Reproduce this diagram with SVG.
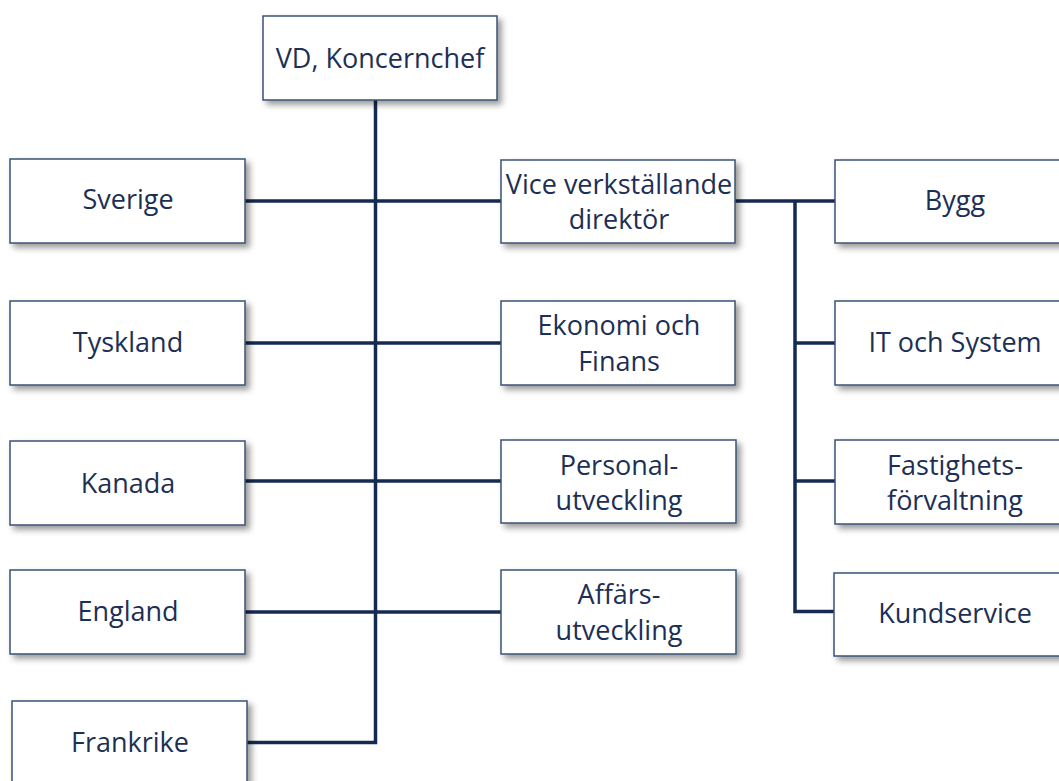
<svg xmlns="http://www.w3.org/2000/svg" width="1059" height="781" viewBox="0 0 1059 781">
  <style>
    .box { fill: #ffffff; stroke: #3b5176; stroke-width: 1.5; filter: url(#shadow); }
    .lbl { font-family: "Open Sans", "Noto Sans", "DejaVu Sans", sans-serif; font-size: 27px; fill: #1d2f55; text-anchor: middle; }
    .wire { fill: none; stroke: #152a52; stroke-width: 3.5; stroke-linejoin: miter; stroke-linecap: butt; }
  </style>
  <defs>
    <filter id="shadow" x="-10%" y="-10%" width="130%" height="140%">
      <feDropShadow dx="4" dy="4" stdDeviation="3" flood-color="#000000" flood-opacity="0.4"/>
    </filter>
  </defs>
  <rect width="1059" height="781" fill="#ffffff"/>

  <!-- connectors -->
  <g id="connectors" class="wire">
    <path d="M375.5 100 V742.5 H247"/>
    <path d="M245 201 H501"/>
    <path d="M245 343 H501"/>
    <path d="M245 481 H501"/>
    <path d="M245 612 H501"/>
    <path d="M735 201 H835"/>
    <path d="M795 201 V611.5 H835"/>
    <path d="M795 343 H835"/>
    <path d="M795 481 H835"/>
  </g>

  <!-- top -->
  <g id="vd">
    <rect class="box" x="263" y="16" width="234" height="84"/>
    <text class="lbl" x="380" y="68">VD, Koncernchef</text>
  </g>

  <!-- countries -->
  <g id="sverige">
    <rect class="box" x="10" y="159" width="235" height="84"/>
    <text class="lbl" x="128" y="209">Sverige</text>
  </g>
  <g id="tyskland">
    <rect class="box" x="10" y="301" width="235" height="84"/>
    <text class="lbl" x="128" y="352">Tyskland</text>
  </g>
  <g id="kanada">
    <rect class="box" x="10" y="441" width="235" height="84"/>
    <text class="lbl" x="128" y="493">Kanada</text>
  </g>
  <g id="england">
    <rect class="box" x="10" y="570" width="235" height="84"/>
    <text class="lbl" x="128" y="621">England</text>
  </g>
  <g id="frankrike">
    <rect class="box" x="12" y="701" width="235" height="84"/>
    <text class="lbl" x="130" y="752">Frankrike</text>
  </g>

  <!-- staff functions -->
  <g id="vvd">
    <rect class="box" x="501" y="160" width="234" height="83"/>
    <text class="lbl" x="619" y="194">Vice verkställande</text>
    <text class="lbl" x="619" y="229">direktör</text>
  </g>
  <g id="ekonomi">
    <rect class="box" x="501" y="301" width="234" height="84"/>
    <text class="lbl" x="619" y="335">Ekonomi och</text>
    <text class="lbl" x="619" y="371">Finans</text>
  </g>
  <g id="personal">
    <rect class="box" x="501" y="440" width="235" height="83"/>
    <text class="lbl" x="619" y="475">Personal-</text>
    <text class="lbl" x="619" y="510">utveckling</text>
  </g>
  <g id="affars">
    <rect class="box" x="501" y="570" width="235" height="84"/>
    <text class="lbl" x="619" y="604">Affärs-</text>
    <text class="lbl" x="619" y="640">utveckling</text>
  </g>

  <!-- operations -->
  <g id="bygg">
    <rect class="box" x="835" y="160" width="240" height="83"/>
    <text class="lbl" x="955" y="210">Bygg</text>
  </g>
  <g id="it">
    <rect class="box" x="835" y="301" width="240" height="84"/>
    <text class="lbl" x="955" y="352">IT och System</text>
  </g>
  <g id="fastighet">
    <rect class="box" x="835" y="440" width="240" height="84"/>
    <text class="lbl" x="955" y="475">Fastighets-</text>
    <text class="lbl" x="955" y="510">förvaltning</text>
  </g>
  <g id="kundservice">
    <rect class="box" x="834" y="573" width="240" height="83"/>
    <text class="lbl" x="955" y="623">Kundservice</text>
  </g>
</svg>
